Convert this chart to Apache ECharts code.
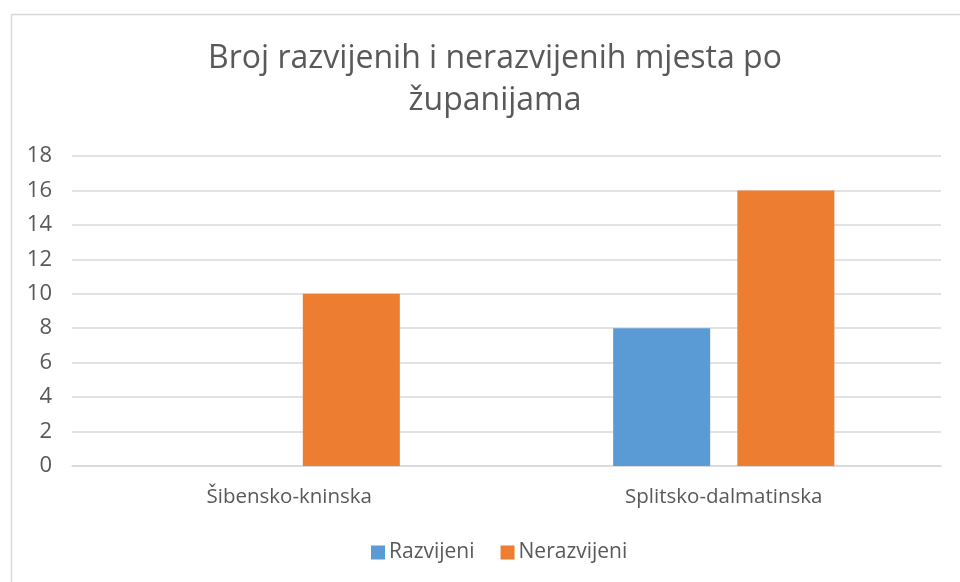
<!DOCTYPE html>
<html><head><meta charset="utf-8">
<script src="https://cdn.jsdelivr.net/npm/echarts@6/dist/echarts.min.js"></script>
<style>html,body{margin:0;padding:0;background:#fff}#c{width:960px;height:582px}</style>
</head><body><div id="c"></div>
<script>
const categories = ['Šibensko-kninska', 'Splitsko-dalmatinska'];
const razvijeni = [0, 8];
const nerazvijeni = [10, 16];
const yTicks = [0, 2, 4, 6, 8, 10, 12, 14, 16, 18];

const chart = echarts.init(document.getElementById('c'));
const font = 'Open Sans';
chart.setOption({
  animation: false,
  backgroundColor: '#fff',
  graphic: [{
    type: 'rect', left: 9, top: 12, z: -1,
    shape: { x: 0, y: 0, width: 1000, height: 1000 },
    style: { fill: 'none', stroke: '#D9D9D9', lineWidth: 1.5 }
  }],
  title: {
    text: 'Broj razvijenih i nerazvijenih mjesta po\nžupanijama',
    left: 490, top: 33, textAlign: 'center',
    textStyle: { fontFamily: font, fontSize: 32, fontWeight: 'normal', color: '#595959', lineHeight: 42 }
  },
  legend: {
    top: 537, left: 366, itemWidth: 14, itemHeight: 14, itemGap: 26,
    icon: 'rect',
    textStyle: { fontFamily: font, fontSize: 21, color: '#595959', padding: [0, 0, 0, -1] },
    data: ['Razvijeni', 'Nerazvijeni']
  },
  grid: { left: 72, right: 19, top: 156, bottom: 116, containLabel: false },
  xAxis: {
    type: 'category', data: categories,
    axisLine: { show: true, lineStyle: { color: '#D9D9D9', width: 1.5 } },
    axisTick: { show: false },
    axisLabel: { fontFamily: font, fontSize: 20.5, color: '#595959', margin: 21 }
  },
  yAxis: {
    type: 'value', min: yTicks[0], max: yTicks[yTicks.length - 1], interval: 2,
    axisLine: { show: false }, axisTick: { show: false },
    axisLabel: { fontFamily: font, fontSize: 22, color: '#595959', margin: 20 },
    splitLine: { lineStyle: { color: '#D9D9D9', width: 1.5 } }
  },
  series: [
    { name: 'Razvijeni', type: 'bar', data: razvijeni, barWidth: 97, barGap: '28%',
      itemStyle: { color: '#5B9BD5' } },
    { name: 'Nerazvijeni', type: 'bar', data: nerazvijeni, barWidth: 97, barGap: '28%',
      itemStyle: { color: '#ED7D31' } }
  ]
});
</script></body></html>
